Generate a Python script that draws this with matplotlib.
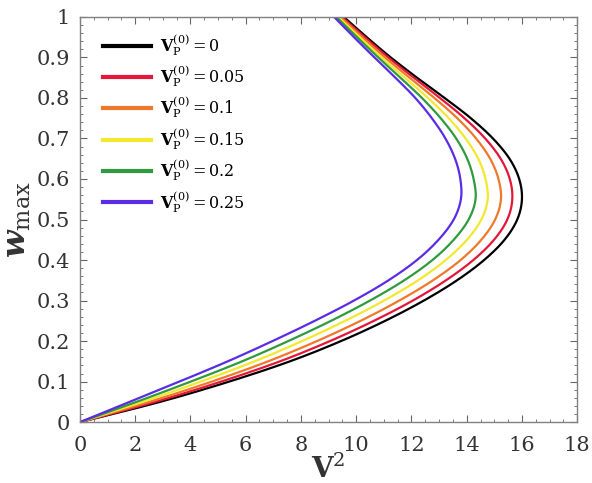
import numpy as np
import matplotlib
matplotlib.use("Agg")
import matplotlib.pyplot as plt
from matplotlib.ticker import MultipleLocator

plt.rcParams['font.family'] = ['DejaVu Serif']
plt.rcParams['mathtext.fontset'] = 'dejavuserif'

w_max = [0, 0.05, 0.1, 0.15, 0.2, 0.25, 0.3, 0.35, 0.4, 0.45, 0.5,
         0.55, 0.6, 0.65, 0.7, 0.75, 0.8, 0.85, 0.9, 0.95, 1.0]

v2_p000 = [0, 2.9, 5.4, 7.6, 9.45, 11.05, 12.45, 13.65, 14.63, 15.37, 15.83,
           16.0, 15.9, 15.55, 14.95, 14.15, 13.2, 12.2, 11.25, 10.38, 9.55]
v2_p005 = [0, 2.72, 5.11, 7.24, 9.05, 10.64, 12.05, 13.25, 14.24, 14.99, 15.47,
           15.65, 15.56, 15.23, 14.67, 13.92, 13.03, 12.08, 11.16, 10.31, 9.49]
v2_p010 = [0, 2.51, 4.77, 6.81, 8.58, 10.16, 11.56, 12.78, 13.78, 14.53, 15.03,
           15.24, 15.15, 14.85, 14.34, 13.66, 12.83, 11.93, 11.04, 10.22, 9.43]
v2_p015 = [0, 2.27, 4.37, 6.32, 8.04, 9.6, 11.01, 12.24, 13.24, 14.01, 14.53,
           14.76, 14.68, 14.42, 13.96, 13.35, 12.6, 11.76, 10.91, 10.12, 9.35]
v2_p020 = [0, 2.05, 4.01, 5.87, 7.54, 9.09, 10.5, 11.74, 12.76, 13.53, 14.07,
           14.32, 14.25, 14.02, 13.62, 13.06, 12.38, 11.6, 10.8, 10.03, 9.28]
v2_p025 = [0, 1.8, 3.6, 5.35, 6.97, 8.5, 9.92, 11.17, 12.2, 12.98, 13.53,
           13.79, 13.77, 13.58, 13.23, 12.74, 12.14, 11.42, 10.66, 9.92, 9.2]

labels = ['0', '0.05', '0.1', '0.15', '0.2', '0.25']
colors = ['#000000', '#e3173a', '#f0782a', '#f2e830', '#2f9a3e', '#5a2ce6']
series = [v2_p000, v2_p005, v2_p010, v2_p015, v2_p020, v2_p025]

x_ticks = [0, 2, 4, 6, 8, 10, 12, 14, 16, 18]
y_ticks = [0, 0.1, 0.2, 0.3, 0.4, 0.5, 0.6, 0.7, 0.8, 0.9, 1]
y_tick_labels = ['0', '0.1', '0.2', '0.3', '0.4', '0.5', '0.6', '0.7', '0.8', '0.9', '1']


def smooth(x, y, n=12):
    # Catmull-Rom rendering of the polyline (drawing only)
    x = np.asarray(x, float); y = np.asarray(y, float)
    P = np.column_stack([x, y])
    P = np.vstack([2 * P[0] - P[1], P, 2 * P[-1] - P[-2]])
    out = []
    t = np.linspace(0, 1, n, endpoint=False)[:, None]
    for i in range(1, len(P) - 2):
        p0, p1, p2, p3 = P[i - 1], P[i], P[i + 1], P[i + 2]
        seg = 0.5 * ((2 * p1) + (-p0 + p2) * t + (2 * p0 - 5 * p1 + 4 * p2 - p3) * t ** 2
                     + (-p0 + 3 * p1 - 3 * p2 + p3) * t ** 3)
        out.append(seg)
    out.append(P[-2][None, :])
    out = np.vstack(out)
    return out[:, 0], out[:, 1]


fig = plt.figure(figsize=(5.92, 4.83), dpi=100)
ax = fig.add_axes([0.135, 0.126, 0.840, 0.839])

for vals, lab, col in zip(series, labels, colors):
    xs, ys = smooth(vals, w_max)
    ax.plot(xs, ys, color=col, lw=1.6,
            label=r'$\mathbf{V}_{\mathrm{P}}^{(0)}=' + lab + '$')

ax.set_xlim(0, 18)
ax.set_ylim(0, 1)
ax.set_xticks(x_ticks)
ax.set_yticks(y_ticks)
ax.set_yticklabels(y_tick_labels)
ax.xaxis.set_minor_locator(MultipleLocator(0.5))
ax.yaxis.set_minor_locator(MultipleLocator(0.02))
ax.tick_params(which='both', direction='in', top=True, right=True, labelsize=15,
               colors='#666666', labelcolor='#333333')
ax.tick_params(which='major', length=5, width=0.8)
ax.tick_params(axis='x', which='major', pad=10)
ax.tick_params(axis='y', which='major', pad=7)
ax.tick_params(which='minor', length=2.5, width=0.6)
for s in ax.spines.values():
    s.set_color('#808080')
    s.set_linewidth(1.0)

ax.set_xlabel(r'$\mathbf{V}^{2}$', fontsize=20, color='#333333', labelpad=0)
ax.set_ylabel(r'$\boldsymbol{w}_{\mathrm{max}}$', fontsize=23, color='#333333')
ax.yaxis.set_label_coords(-0.094, 0.5)

leg = ax.legend(loc='upper left', bbox_to_anchor=(0.034, 0.978), borderaxespad=0,
                frameon=False, fontsize=11.5, handlelength=3.0,
                labelspacing=0.36, handletextpad=0.55)
for line in leg.get_lines():
    line.set_linewidth(3)

fig.savefig('out.png', dpi=100)
